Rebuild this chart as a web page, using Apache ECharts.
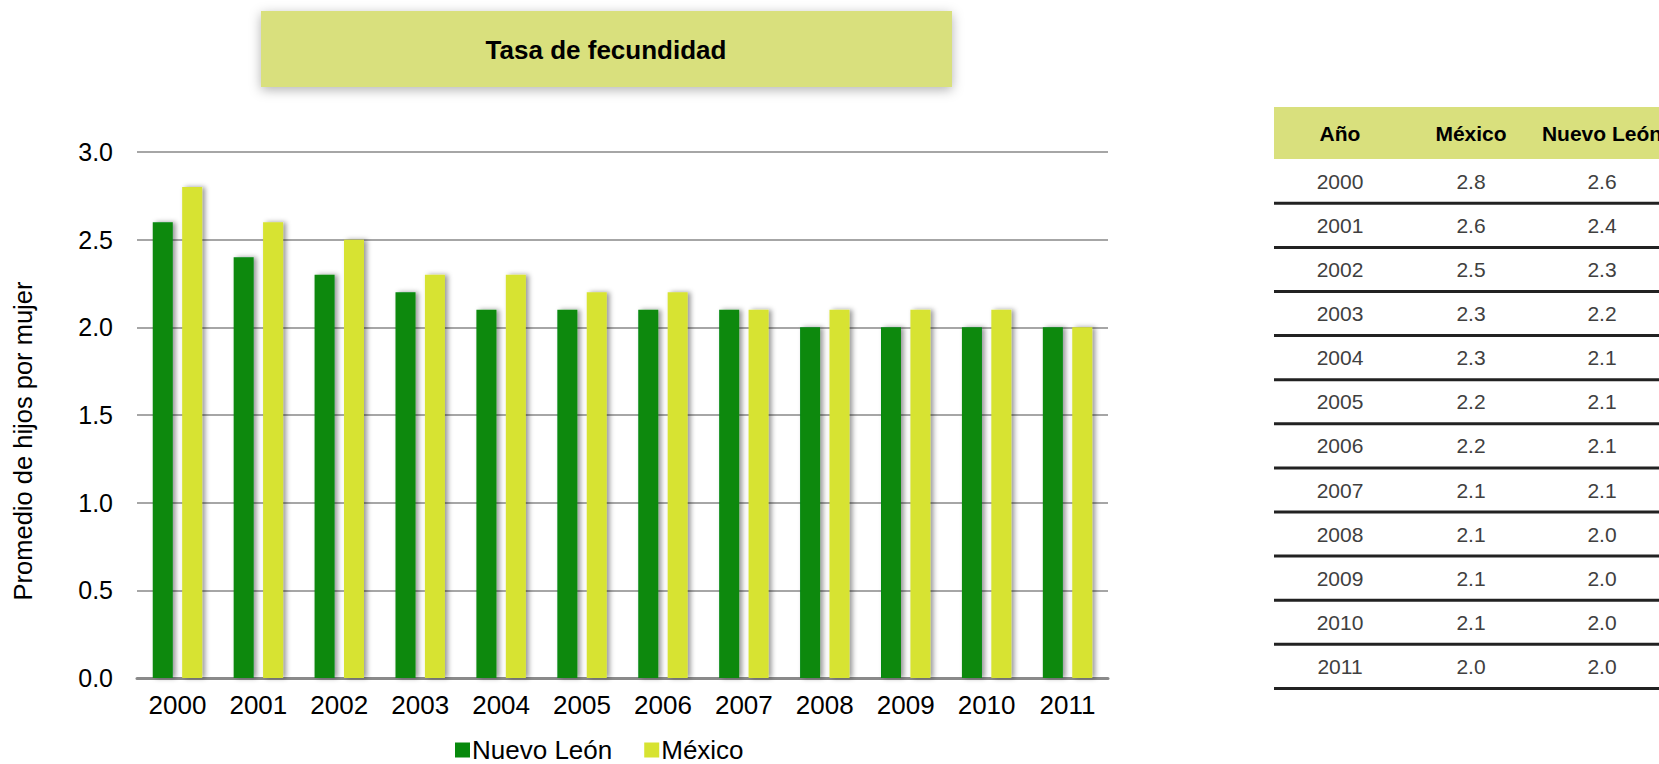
<!DOCTYPE html>
<html>
<head>
    <meta charset="UTF-8">
    <title>Tasa de fecundidad</title>
    <script src="https://cdn.jsdelivr.net/npm/echarts@6/dist/echarts.min.js"></script>
    <style>
        *{margin:0;padding:0}
        html,body{width:100%;height:100%;background:#fff}
        #main{width:1659px;height:764px}
    </style>
</head>
<body>
<div id="main"></div>
<script type="text/javascript">
    // datos
    var years = ['2000','2001','2002','2003','2004','2005','2006','2007','2008','2009','2010','2011'];
    var nuevoLeon = [2.6, 2.4, 2.3, 2.2, 2.1, 2.1, 2.1, 2.1, 2.0, 2.0, 2.0, 2.0];
    var mexico = [2.8, 2.6, 2.5, 2.3, 2.3, 2.2, 2.2, 2.1, 2.1, 2.1, 2.1, 2.0];
    var yTicks = [0, 0.5, 1.0, 1.5, 2.0, 2.5, 3.0];
    var tableHeader = ['Año', 'México', 'Nuevo León'];

    var font = '"Liberation Sans", Arial, sans-serif';
    var colNL = '#07890c';
    var colMX = '#d7e331';
    var boxColor = '#d9e07d';

    var myChart = echarts.init(document.getElementById('main'), null, {renderer: 'svg'});

    // tabla a la derecha
    var colX = [1340, 1471, 1602];
    var rowTop = 181.3, rowStep = 44.1;
    var tableEls = [
        {type: 'rect', shape: {x: 1274, y: 107, width: 400, height: 52}, style: {fill: boxColor}}
    ];
    tableHeader.forEach(function (h, i) {
        tableEls.push({type: 'text', x: colX[i], y: 133.5,
            style: {text: h, fill: '#000', font: 'bold 21px ' + font, align: 'center', verticalAlign: 'middle'}});
    });
    years.forEach(function (y, i) {
        var cy = rowTop + i * rowStep;
        var vals = [y, mexico[i].toFixed(1), nuevoLeon[i].toFixed(1)];
        vals.forEach(function (v, j) {
            tableEls.push({type: 'text', x: colX[j], y: cy,
                style: {text: v, fill: '#404040', font: '21px ' + font, align: 'center', verticalAlign: 'middle'}});
        });
        tableEls.push({type: 'line', shape: {x1: 1274, y1: cy + 22, x2: 1659, y2: cy + 22},
            style: {stroke: '#222', lineWidth: 3}});
    });

    var option = {
        animation: false,
        textStyle: {fontFamily: font},
        graphic: [
            // caja del titulo
            {type: 'rect', shape: {x: 261, y: 11, width: 691, height: 76},
                style: {fill: boxColor, shadowBlur: 12, shadowOffsetY: 3, shadowColor: 'rgba(0,0,0,0.3)'}},
            {type: 'text', x: 606, y: 50,
                style: {text: 'Tasa de fecundidad', fill: '#000', font: 'bold 26px ' + font, align: 'center', verticalAlign: 'middle'}},
            // titulo del eje
            {type: 'text', x: 23, y: 441, rotation: Math.PI / 2,
                style: {text: 'Promedio de hijos por mujer', fill: '#000', font: '25.5px ' + font, align: 'center', verticalAlign: 'middle'}}
        ].concat(tableEls),
        legend: {
            left: 455,
            top: 737,
            padding: 0,
            itemWidth: 15,
            itemHeight: 15,
            itemGap: 32,
            icon: 'rect',
            textStyle: {fontSize: 26, color: '#000', padding: [0, 0, 0, -3]},
            data: ['Nuevo León', 'México']
        },
        grid: {left: 137, right: 551, top: 152, bottom: 86, containLabel: false},
        xAxis: {
            type: 'category',
            data: years,
            axisLine: {lineStyle: {color: '#8a8a8a', width: 3}},
            axisTick: {length: 8, lineStyle: {color: '#8a8a8a', width: 3}},
            axisLabel: {fontSize: 26, color: '#000', margin: 14}
        },
        yAxis: {
            type: 'value',
            min: 0,
            max: 3,
            interval: 0.5,
            axisLine: {show: false},
            axisTick: {show: false},
            splitLine: {lineStyle: {color: '#a6a6a6', width: 2}},
            axisLabel: {fontSize: 25, color: '#000', margin: 24,
                formatter: function (v) { return v.toFixed(1); }}
        },
        series: [
            {
                name: 'Nuevo León',
                type: 'bar',
                data: nuevoLeon,
                barWidth: 20,
                barGap: '47%',
                itemStyle: {color: colNL, shadowBlur: 5, shadowOffsetX: 3, shadowColor: 'rgba(0,0,0,0.4)'}
            },
            {
                name: 'México',
                type: 'bar',
                data: mexico,
                barWidth: 20,
                itemStyle: {color: colMX, shadowBlur: 5, shadowOffsetX: 3, shadowColor: 'rgba(0,0,0,0.4)'}
            }
        ]
    };

    myChart.setOption(option);
</script>
</body>
</html>
